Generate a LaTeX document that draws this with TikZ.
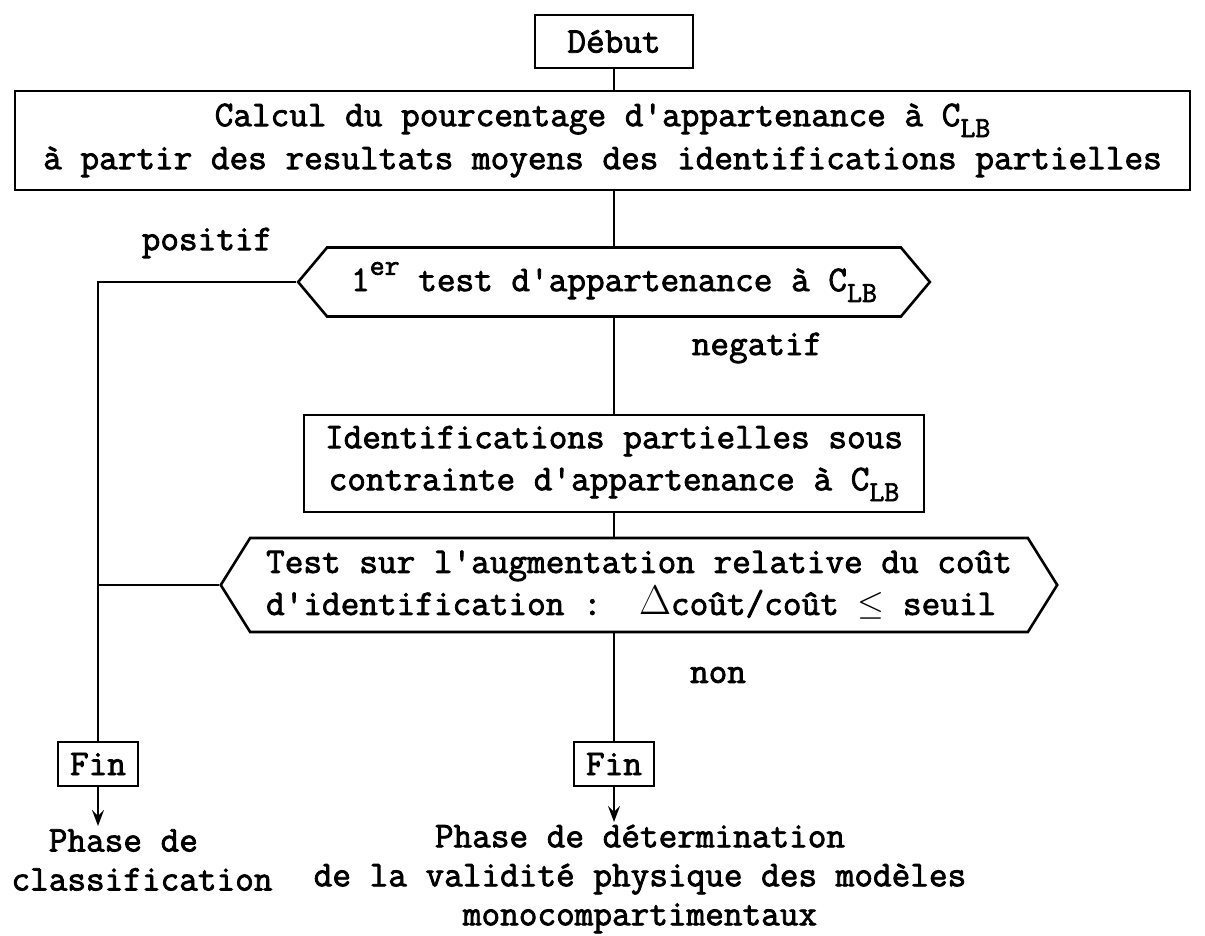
\documentclass[tikz,border=0pt]{standalone}
\usepackage{fontspec}
\setmonofont{Latin Modern Mono}[FakeBold=2.2]
\usetikzlibrary{shapes.symbols,arrows.meta}
% typewriter text used throughout the chart
\newcommand\tw{\ttfamily\fontsize{18.1}{21}\selectfont}
\newcommand\twtight{\ttfamily\fontsize{18.1}{19.5}\selectfont}
\newcommand\lowlb{\raisebox{-0.3em}{\fontsize{14.5}{14.5}\selectfont LB}}
\newcommand\uper{\raisebox{0.45em}{\fontsize{14.5}{14.5}\selectfont er}}
\tikzset{
  box/.style={draw, line width=1.3pt, font=\tw, align=center, inner xsep=5pt, inner ysep=3pt},
  hexa/.style={draw, line width=1.3pt, font=\tw, shape=signal, signal to=west and east,
               signal pointer angle=#1, inner ysep=3pt},
  hexa/.default=105,
  lbl/.style={font=\tw, inner sep=0pt},
  link/.style={line width=1pt},
  arr/.style={line width=1pt, -{Stealth[length=8pt,width=6pt,inset=3pt]}},
}
\begin{document}
\begin{tikzpicture}[x=0.5pt,y=-0.5pt]
\useasboundingbox (0,0) rectangle (1205,936);

% main column
\node[box, minimum width=79pt, minimum height=26.5pt] (debut) at (614,41.5) {Début};
\node[box, minimum width=587.5pt, minimum height=49.5pt,
      font=\ttfamily\fontsize{18.1}{21.5}\selectfont] (calc) at (602.5,140.5)
  {Calcul du pourcentage d'appartenance à C\lowlb\\
   à partir des resultats moyens des identifications partielles};
\node[hexa=100, minimum height=34.5pt, inner xsep=12pt] (t1) at (614,282)
  {1\uper{} test d'appartenance à C\lowlb};
\node[box, minimum width=310pt, minimum height=48.5pt] (ident) at (614,463.5)
  {Identifications partielles sous\\contrainte d'appartenance à C\lowlb};
\node[hexa=116, minimum height=47pt, inner xsep=8pt, align=left] (t2) at (639,585)
  {Test sur l'augmentation relative du coût\\
   d'identification :~~{\fontsize{22}{22}\selectfont$\Delta$}coût/coût $\leq$ seuil};

% branch labels
\node[lbl] (pos) at (207,243) {positif};
\node[lbl] (neg) at (757,348) {negatif};
\node[lbl] (non) at (718,675) {non};

% end boxes
\node[box, minimum width=40pt, minimum height=22pt] (fin1) at (98,764) {Fin};
\node[box, minimum width=40pt, minimum height=22pt] (fin2) at (614,764) {Fin};
\coordinate (e1) at (98,826);
\coordinate (e2) at (614,822);

% outcomes
\node[lbl, font=\twtight, align=left] (ph1) at (142,860) {\phantom{xx}Phase de\\classification};
\node[lbl, font=\twtight, align=center] (ph2) at (640,879)
  {Phase de détermination\\de la validité physique des modèles\\monocompartimentaux};

% connectors
\draw[link] (debut.south) -- (debut.south |- calc.north);
\draw[link] (calc.south -| t1.north) -- (t1.north);
\draw[link] (t1.south) -- (t1.south |- ident.north);
\draw[link] (ident.south) -- (ident.south |- t2.north);
\draw[link] (t2.south -| fin2.north) -- (fin2.north);
\draw[link] (t1.west) -- (t1.west -| fin1.north) -- (fin1.north);
\draw[link] (t2.west) -- (t2.west -| fin1.north);
\draw[arr] (fin1.south) -- (e1);
\draw[arr] (fin2.south) -- (e2);
\end{tikzpicture}
\end{document}
